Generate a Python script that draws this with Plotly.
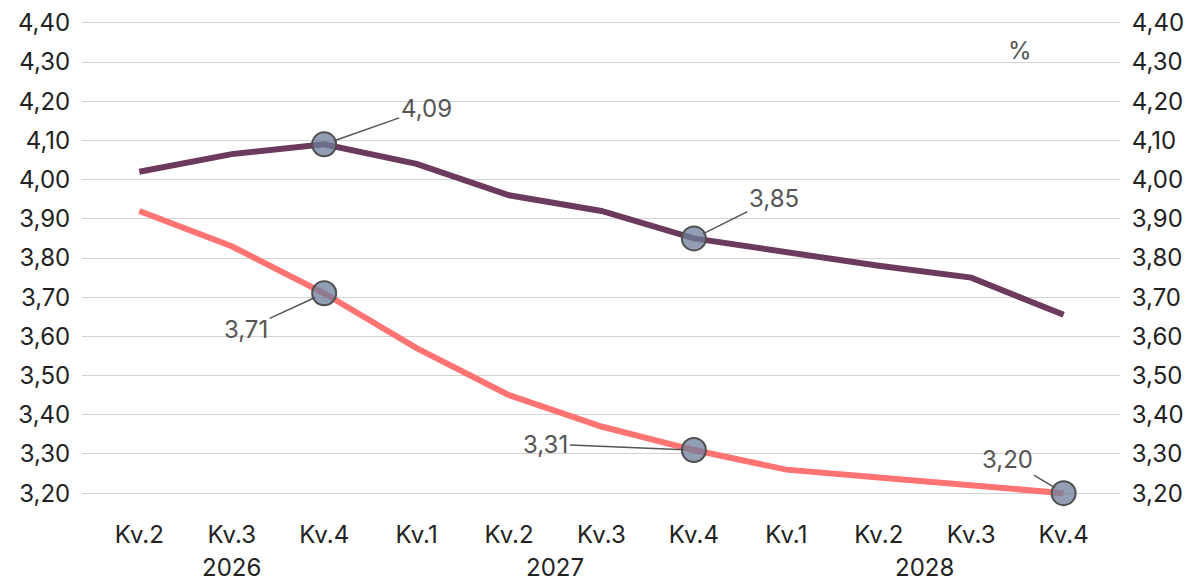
import plotly.graph_objects as go

quarters = ["Kv.2", "Kv.3", "Kv.4", "Kv.1", "Kv.2", "Kv.3", "Kv.4", "Kv.1", "Kv.2", "Kv.3", "Kv.4"]
years = ["2026", "2027", "2028"]
year_pos = [1, 4.5, 8.5]
series_a = [4.02, 4.065, 4.09, 4.04, 3.96, 3.92, 3.85, 3.815, 3.78, 3.75, 3.655]
series_b = [3.92, 3.83, 3.71, 3.57, 3.45, 3.37, 3.31, 3.26, 3.24, 3.22, 3.20]
color_a = "#6B3A5C"
color_b = "#FF7373"

# highlighted points: (series, index, label, ax, ay)
highlights = [
    ("a", 2, "4,09", 102, -36),
    ("a", 6, "3,85", 80, -40),
    ("b", 2, "3,71", -78, 36),
    ("b", 6, "3,31", -148, -6),
    ("b", 10, "3,20", -56, -34),
]

xs = list(range(len(quarters)))
FONT = "Inter, Roboto, sans-serif"
FS = 24

fig = go.Figure()
fig.add_trace(go.Scatter(x=xs, y=series_a, mode="lines", line=dict(color=color_a, width=6), showlegend=False))
fig.add_trace(go.Scatter(x=xs, y=series_b, mode="lines", line=dict(color=color_b, width=6), showlegend=False))

hx = [i for s, i, *_ in highlights]
hy = [(series_a if s == "a" else series_b)[i] for s, i, *_ in highlights]
fig.add_trace(go.Scatter(x=hx, y=hy, mode="markers", cliponaxis=False,
                         marker=dict(size=24, color="rgba(110,125,155,0.75)",
                                     line=dict(color="#4f4f4f", width=2)),
                         showlegend=False))
# dummy trace for right axis
fig.add_trace(go.Scatter(x=[0], y=[3.2], yaxis="y2", mode="markers", marker=dict(opacity=0), showlegend=False, hoverinfo="skip"))

for (s, i, label, ax, ay), y in zip(highlights, hy):
    fig.add_annotation(x=i, y=y, text=label, showarrow=True, arrowhead=0, arrowwidth=1.5,
                       arrowcolor="#555555", ax=ax, ay=ay, standoff=10,
                       font=dict(family=FONT, size=FS, color="#555555"))

for yr, p in zip(years, year_pos):
    fig.add_annotation(x=p, y=0, yref="paper", yshift=-83, text=yr, showarrow=False,
                       font=dict(family=FONT, size=FS, color="#222222"))

fig.add_annotation(x=9.53, y=4.33, text="%", showarrow=False,
                   font=dict(family=FONT, size=FS, color="#555555"))

yrange = [3.18, 4.42]
fig.update_layout(
    width=1186, height=582,
    margin=dict(l=82, r=66, t=15, b=81),
    plot_bgcolor="white", paper_bgcolor="white",
    font=dict(family=FONT, size=FS, color="#222222"),
    separators=", ",
    xaxis=dict(tickmode="array", tickvals=xs, ticktext=quarters, range=[-0.62, 10.61],
               showgrid=False, zeroline=False, showline=False, ticks="outside",
               ticklen=12, tickcolor="rgba(0,0,0,0)", tickfont=dict(size=FS, color="#222222"),
               automargin=False),
    yaxis=dict(range=yrange, tick0=3.2, dtick=0.1, tickformat=".2f",
               showgrid=True, gridcolor="#d3d3d3", gridwidth=1, zeroline=False,
               ticks="outside", ticklen=6, tickcolor="rgba(0,0,0,0)",
               tickfont=dict(size=FS, color="#222222"), automargin=False),
    yaxis2=dict(range=yrange, tick0=3.2, dtick=0.1, tickformat=".2f", overlaying="y", side="right",
                showgrid=False, zeroline=False, ticks="outside", ticklen=6, tickcolor="rgba(0,0,0,0)",
                tickfont=dict(size=FS, color="#222222"), automargin=False),
)

fig.write_html("out.html")
